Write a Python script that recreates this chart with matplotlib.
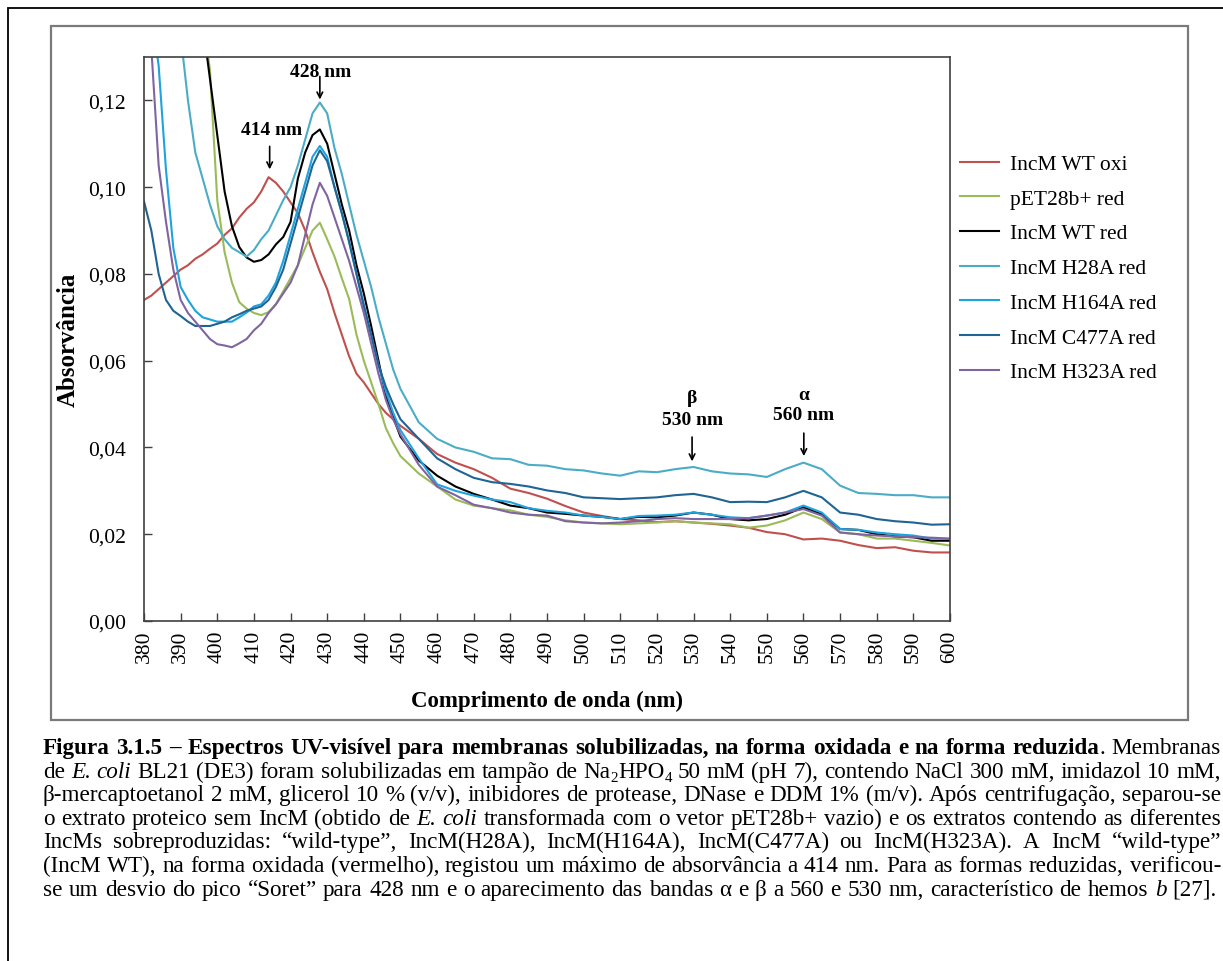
import numpy as np
import matplotlib.pyplot as plt
from matplotlib.patches import Rectangle

W, H = 1223, 962
plt.rcParams['font.family'] = ['Liberation Serif', 'DejaVu Serif']

# wavelength grid (nm)
wavelength = np.concatenate([np.arange(380, 451, 2), np.arange(455, 601, 5)])

wt_oxi = [0.0740, 0.0750, 0.0765, 0.0780, 0.0795, 0.0810, 0.0820, 0.0835, 0.0845, 0.0858,
          0.0870, 0.0890, 0.0905, 0.0930, 0.0950, 0.0965, 0.0990, 0.1023, 0.1010, 0.0990,
          0.0965, 0.0940, 0.0900, 0.0850, 0.0805, 0.0765, 0.0710, 0.0660, 0.0610, 0.0570,
          0.0550, 0.0525, 0.0500, 0.0480, 0.0465, 0.0450,
          0.0420, 0.0385, 0.0365, 0.0350, 0.0330, 0.0305, 0.0295, 0.0282, 0.0265, 0.0250,
          0.0242, 0.0235, 0.0232, 0.0228, 0.0230, 0.0227, 0.0224, 0.0220, 0.0215, 0.0205,
          0.0200, 0.0188, 0.0190, 0.0185, 0.0175, 0.0168, 0.0170, 0.0162, 0.0158, 0.0158]
pet_red = [0.300, 0.275, 0.250, 0.225, 0.200, 0.185, 0.170, 0.155, 0.140, 0.127,
           0.097, 0.085, 0.078, 0.0735, 0.0720, 0.0710, 0.0705, 0.0712, 0.0730, 0.0760,
           0.0790, 0.0820, 0.0860, 0.0900, 0.0918, 0.0880, 0.0840, 0.0790, 0.0742, 0.0660,
           0.0600, 0.0550, 0.0500, 0.0445, 0.0410, 0.0380,
           0.0340, 0.0310, 0.0280, 0.0266, 0.0260, 0.0255, 0.0245, 0.0240, 0.0232, 0.0227,
           0.0225, 0.0223, 0.0225, 0.0227, 0.0230, 0.0227, 0.0225, 0.0223, 0.0215, 0.0220,
           0.0232, 0.0250, 0.0235, 0.0204, 0.0200, 0.0190, 0.0190, 0.0185, 0.0180, 0.0174]
wt_red = [0.300, 0.275, 0.250, 0.225, 0.200, 0.182, 0.165, 0.152, 0.138, 0.125,
          0.112, 0.099, 0.091, 0.0862, 0.0838, 0.0828, 0.0832, 0.0845, 0.0868, 0.0885,
          0.0920, 0.1020, 0.1080, 0.1120, 0.1133, 0.1100, 0.1030, 0.0960, 0.0900, 0.0820,
          0.0755, 0.0680, 0.0600, 0.0520, 0.0470, 0.0425,
          0.0370, 0.0335, 0.0310, 0.0293, 0.0280, 0.0266, 0.0260, 0.0250, 0.0247, 0.0243,
          0.0240, 0.0235, 0.0240, 0.0239, 0.0243, 0.0250, 0.0245, 0.0235, 0.0232, 0.0235,
          0.0245, 0.0262, 0.0246, 0.0212, 0.0210, 0.0200, 0.0195, 0.0193, 0.0185, 0.0185]
h28a_red = [0.250, 0.225, 0.200, 0.180, 0.160, 0.135, 0.120, 0.108, 0.102, 0.096,
            0.091, 0.088, 0.086, 0.085, 0.084, 0.0855, 0.0880, 0.0900, 0.0935, 0.0970,
            0.1000, 0.1050, 0.1110, 0.1170, 0.1195, 0.1170, 0.1090, 0.1030, 0.0960, 0.0890,
            0.0830, 0.0770, 0.0700, 0.0640, 0.0580, 0.0535,
            0.0458, 0.0420, 0.0400, 0.0390, 0.0375, 0.0373, 0.0360, 0.0358, 0.0350, 0.0347,
            0.0340, 0.0335, 0.0345, 0.0343, 0.0350, 0.0355, 0.0345, 0.0340, 0.0338, 0.0332,
            0.0350, 0.0365, 0.0350, 0.0312, 0.0295, 0.0293, 0.0290, 0.0290, 0.0285, 0.0285]
h164a_red = [0.160, 0.140, 0.128, 0.104, 0.086, 0.077, 0.074, 0.0715, 0.0700, 0.0695,
             0.0690, 0.0690, 0.0690, 0.0700, 0.0711, 0.0725, 0.0730, 0.0750, 0.0780, 0.0830,
             0.0890, 0.0950, 0.1010, 0.1070, 0.1095, 0.1070, 0.1000, 0.0940, 0.0875, 0.0800,
             0.0730, 0.0660, 0.0590, 0.0530, 0.0480, 0.0440,
             0.0375, 0.0315, 0.0300, 0.0289, 0.0280, 0.0274, 0.0260, 0.0254, 0.0250, 0.0243,
             0.0240, 0.0235, 0.0242, 0.0243, 0.0245, 0.0250, 0.0245, 0.0239, 0.0237, 0.0243,
             0.0250, 0.0266, 0.0250, 0.0212, 0.0210, 0.0204, 0.0200, 0.0197, 0.0190, 0.0189]
c477a_red = [0.0967, 0.0900, 0.0800, 0.0740, 0.0715, 0.0703, 0.0690, 0.0680, 0.0680, 0.0680,
             0.0685, 0.0690, 0.0700, 0.0707, 0.0715, 0.0720, 0.0725, 0.0740, 0.0770, 0.0810,
             0.0870, 0.0930, 0.0990, 0.1050, 0.1085, 0.1060, 0.1000, 0.0940, 0.0873, 0.0800,
             0.0725, 0.0660, 0.0590, 0.0540, 0.0500, 0.0465,
             0.0420, 0.0375, 0.0350, 0.0330, 0.0320, 0.0316, 0.0310, 0.0301, 0.0295, 0.0285,
             0.0283, 0.0281, 0.0283, 0.0285, 0.0290, 0.0293, 0.0285, 0.0274, 0.0275, 0.0274,
             0.0285, 0.0300, 0.0285, 0.0250, 0.0245, 0.0235, 0.0230, 0.0227, 0.0222, 0.0223]
h323a_red = [0.150, 0.132, 0.105, 0.092, 0.081, 0.074, 0.071, 0.069, 0.067, 0.065,
             0.0638, 0.0635, 0.0631, 0.0640, 0.0650, 0.0670, 0.0685, 0.0710, 0.0730, 0.0755,
             0.0780, 0.0820, 0.0890, 0.0960, 0.1010, 0.0980, 0.0930, 0.0880, 0.0830, 0.0770,
             0.0710, 0.0640, 0.0570, 0.0510, 0.0465, 0.0430,
             0.0360, 0.0310, 0.0290, 0.0268, 0.0260, 0.0250, 0.0245, 0.0243, 0.0230, 0.0227,
             0.0225, 0.0227, 0.0230, 0.0235, 0.0237, 0.0235, 0.0235, 0.0235, 0.0237, 0.0243,
             0.0250, 0.0258, 0.0243, 0.0204, 0.0200, 0.0197, 0.0195, 0.0193, 0.0192, 0.0190]

series_labels = ['IncM WT oxi', 'pET28b+ red', 'IncM WT red', 'IncM H28A red',
                 'IncM H164A red', 'IncM C477A red', 'IncM H323A red']
series_colors = ['#C0504D', '#9BBB59', '#000000', '#4BACC6', '#1DA3DD', '#1F6493', '#8064A2']
yticks = [0.00, 0.02, 0.04, 0.06, 0.08, 0.10, 0.12]
ytick_labels = ['0,00', '0,02', '0,04', '0,06', '0,08', '0,10', '0,12']

fig = plt.figure(figsize=(W / 100, H / 100), dpi=100)

def fx(x):
    return x / W

def fy(y):
    return 1 - y / H

# outer and inner frames
fig.add_artist(Rectangle((fx(8), fy(1100)), fx(1400), 1100 / H - 9 / H,
                         transform=fig.transFigure, fill=False, ec='black', lw=1.3))
fig.add_artist(Rectangle((fx(51), fy(721)), fx(1188 - 51), (721 - 27) / H,
                         transform=fig.transFigure, fill=False, ec='#7a7a7a', lw=1.6))

ax = fig.add_axes([fx(144), fy(622), fx(950 - 144), (622 - 58) / H])
all_series = [wt_oxi, pet_red, wt_red, h28a_red, h164a_red, c477a_red, h323a_red]
for vals, lab, col in zip(all_series, series_labels, series_colors):
    ax.plot(wavelength, vals, color=col, lw=1.5, label=lab)

ax.set_xlim(380, 600)
ax.set_ylim(0, 0.13)
ax.set_xticks(np.arange(380, 601, 10))
ax.set_yticks(yticks)
ax.set_yticklabels(ytick_labels)
ax.tick_params(direction='in', labelsize=15.5, length=6, width=1, color='#404040')
ax.tick_params(axis='y', pad=13)
ax.tick_params(axis='x', pad=6)
plt.setp(ax.get_xticklabels(), rotation=90)
for s in ax.spines.values():
    s.set_color('#404040')
    s.set_linewidth(1.2)

ax.set_xlabel('Comprimento de onda (nm)', fontsize=16.5, fontweight='bold', labelpad=20)
ax.set_ylabel('Absorvância', fontsize=18, fontweight='bold', labelpad=6)

arrow = dict(arrowstyle='->', lw=1.2, color='black', shrinkA=0, shrinkB=0)
ax.annotate('', xy=(414.3, 0.1041), xytext=(414.3, 0.1094), arrowprops=arrow)
ax.text(414.7, 0.1133, '414 nm', ha='center', va='center', fontsize=14, fontweight='bold')
ax.annotate('', xy=(428.0, 0.1202), xytext=(428.0, 0.1255), arrowprops=arrow)
ax.text(428.1, 0.1267, '428 nm', ha='center', va='center', fontsize=14, fontweight='bold')
ax.annotate('', xy=(529.6, 0.0368), xytext=(529.6, 0.0424), arrowprops=arrow)
ax.text(529.6, 0.0516, 'β', ha='center', va='center', fontsize=14, fontweight='bold')
ax.text(529.6, 0.0465, '530 nm', ha='center', va='center', fontsize=14, fontweight='bold')
ax.annotate('', xy=(560.1, 0.0380), xytext=(560.1, 0.0433), arrowprops=arrow)
ax.text(560.1, 0.0523, 'α', ha='center', va='center', fontsize=14, fontweight='bold')
ax.text(560.1, 0.0477, '560 nm', ha='center', va='center', fontsize=14, fontweight='bold')

ax.legend(loc='upper left', bbox_to_anchor=(fx(960), fy(155)), bbox_transform=fig.transFigure,
          frameon=False, fontsize=15.5, handlelength=1.8, handletextpad=0.5,
          labelspacing=0.68, borderpad=0, borderaxespad=0)

# caption, justified line by line
caption_lines = [
    [('Figura 3.1.5 – Espectros UV-visível para membranas solubilizadas, na forma oxidada e na forma reduzida', 'b'),
     ('. Membranas', 'n')],
    [('de ', 'n'), ('E. coli', 'i'), (' BL21 (DE3) foram solubilizadas em tampão de Na', 'n'), ('2', 's'),
     ('HPO', 'n'), ('4', 's'), (' 50 mM (pH 7), contendo NaCl 300 mM, imidazol 10 mM,', 'n')],
    [('β-mercaptoetanol 2 mM, glicerol 10 % (v/v), inibidores de protease, DNase e DDM 1% (m/v). Após centrifugação, separou-se', 'n')],
    [('o extrato proteico sem IncM (obtido de ', 'n'), ('E. coli', 'i'),
     (' transformada com o vetor pET28b+ vazio) e os extratos contendo as diferentes', 'n')],
    [('IncMs sobreproduzidas: “wild-type”, IncM(H28A), IncM(H164A), IncM(C477A) ou IncM(H323A). A IncM “wild-type”', 'n')],
    [('(IncM WT), na forma oxidada (vermelho), registou um máximo de absorvância a 414 nm. Para as formas reduzidas, verificou-', 'n')],
    [('se um desvio do pico “Soret” para 428 nm e o aparecimento das bandas α e β a 560 e 530 nm, característico de hemos ', 'n'),
     ('b', 'i'), (' [27].', 'n')],
]

renderer = fig.canvas.get_renderer()


def make_styles(size):
    return {'n': dict(fontsize=size),
            'b': dict(fontsize=size, fontweight='bold'),
            'i': dict(fontsize=size, fontstyle='italic'),
            's': dict(fontsize=size * 0.65)}


def run_width(text, style, styles):
    t = fig.text(0, 0, text, **styles[style])
    w = t.get_window_extent(renderer).width
    t.remove()
    return w


def split_words(segments):
    words = [[]]
    for text, style in segments:
        parts = text.split(' ')
        for i, p in enumerate(parts):
            if i > 0:
                words.append([])
            if p:
                words[-1].append((p, style))
    return [w for w in words if w]


x0 = 43
right_edges = [1221, 1221, 1221, 1221, 1221, 1221, 1217]

# pick the caption size so the fullest line sets with plain word spaces
test = make_styles(13.5)
space = run_width('a a', 'n', test) - run_width('aa', 'n', test)
ratios = []
for k, segs in enumerate(caption_lines):
    words = split_words(segs)
    nat = sum(run_width(t, s, test) for w in words for t, s in w) + space * (len(words) - 1)
    ratios.append((right_edges[k] - x0) / nat)
cap_styles = make_styles(13.5 * min(ratios))

for k, segs in enumerate(caption_lines):
    words = split_words(segs)
    widths = [sum(run_width(t, s, cap_styles) for t, s in w) for w in words]
    gap = (right_edges[k] - x0 - sum(widths)) / (len(words) - 1)
    base = 754 + k * 23.6
    x = x0
    for w, ww in zip(words, widths):
        xr = x
        for t, s in w:
            yb = base + (4 if s == 's' else 0)
            fig.text(fx(xr), fy(yb), t, va='baseline', ha='left', **cap_styles[s])
            xr += run_width(t, s, cap_styles)
        x += ww + gap

fig.savefig('out.png', dpi=100)
